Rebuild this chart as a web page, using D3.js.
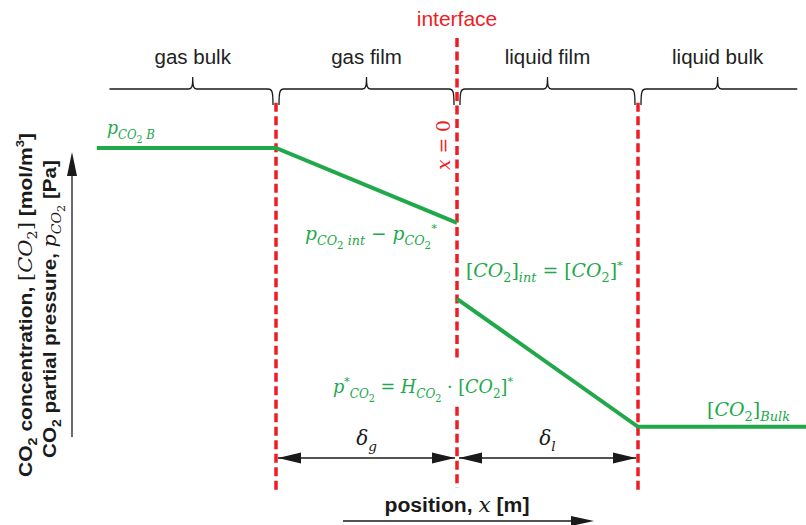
<!DOCTYPE html>
<html><head><meta charset="utf-8">
<script src="https://cdn.jsdelivr.net/npm/d3@7"></script>
<style>
html,body{margin:0;padding:0;background:#fff;}
svg{display:block;}
</style></head>
<body>
<svg id="chart" width="806" height="525"></svg>
<script>
// ---------------- data ----------------
const zoneNames = ["gas bulk", "gas film", "liquid film", "liquid bulk"];
const zoneEdges = [-1.92, -1, 0, 1, 1.88];          // position (units of film thickness)
const boundaryPos = [-1, 0, 1];                     // dashed boundaries
const profileX = [-1.99, -1, 0, 0, 1, 1.93];        // position
const profileY = [8.55, 8.55, 6.68, 4.78, 1.58, 1.58]; // concentration / pressure (arb.)
const filmNames = ["g", "l"];                       // δ_g, δ_l

// ---------------- layout ----------------
const svg = d3.select("#chart");
const x = d3.scaleLinear().domain([-1, 1]).range([276, 638]);
const y = d3.scaleLinear().domain([0, 10]).range([490, 90]);
const GREEN = "#21a84a", RED = "#ee1c25", INK = "#1a1a1a";
const SANS = "'Liberation Sans', Arial, sans-serif";
const SERIF = "'DejaVu Serif', 'Liberation Serif', serif";

// fit a text element horizontally (in its own frame) to a target width
function fitWidth(t, target, cx, cy, extra){
  const w = t.node().getComputedTextLength();
  const k = target / w;
  t.attr("transform", `${extra||""} translate(${cx},${cy}) scale(${k},1) translate(${-cx},${-cy})`);
}

// math text helper
const LV = {0:{s:1,d:0}, 1:{s:0.68,d:0.28}, 2:{s:0.55,d:0.45}, "-1":{s:0.62,d:-0.42}};
function math(g, px, py, fs, parts, color, anchor, target){
  const t = g.append("text").attr("x", px).attr("y", py)
    .attr("font-family", SERIF).attr("fill", color).attr("text-anchor", anchor||"start");
  let prev = 0;
  parts.forEach(p => {
    const [txt, lv, it, dx] = p;
    const L = LV[lv];
    const ts = t.append("tspan").text(txt)
      .attr("font-size", fs * L.s)
      .attr("font-style", it ? "italic" : "normal")
      .attr("dy", (L.d - prev) * fs);
    if (dx) ts.attr("dx", dx);
    prev = L.d;
  });
  if (target) fitWidth(t, target, px, py);
  return t;
}

// ---------------- braces ----------------
const braceG = svg.append("g").attr("fill", "none").attr("stroke", INK).attr("stroke-width", 1.3);
const by = 89, btop = 77, bcurl = 105;
for (let i = 0; i < zoneNames.length; i++) {
  const isB0 = boundaryPos.includes(zoneEdges[i]);
  const isB1 = boundaryPos.includes(zoneEdges[i+1]);
  const x1 = x(zoneEdges[i]) + (isB0 ? 3 : 0);
  const x2 = x(zoneEdges[i+1]) - (isB1 ? 3 : 0);
  const xm = (x(zoneEdges[i]) + x(zoneEdges[i+1])) / 2;
  const p = d3.path();
  if (isB0) { p.moveTo(x1, bcurl); p.bezierCurveTo(x1, by+2, x1+1, by, x1+5, by); }
  else p.moveTo(x1, by);
  p.lineTo(xm - 4, by);
  p.bezierCurveTo(xm - 1, by, xm, by - 2, xm, btop);
  p.bezierCurveTo(xm, by - 2, xm + 1, by, xm + 4, by);
  if (isB1) { p.lineTo(x2 - 5, by); p.bezierCurveTo(x2 - 1, by, x2, by + 2, x2, bcurl); }
  else p.lineTo(x2, by);
  braceG.append("path").attr("d", p.toString());
  svg.append("text").attr("x", xm).attr("y", 64).attr("text-anchor", "middle")
    .attr("font-family", SANS).attr("font-size", 20.5).attr("fill", "#222").text(zoneNames[i]);
}

// interface label
svg.append("text").attr("x", x(0)).attr("y", 26).attr("text-anchor", "middle")
  .attr("font-family", SANS).attr("font-size", 21).attr("fill", RED).text("interface");

// ---------------- dashed boundaries ----------------
const dashG = svg.append("g").attr("stroke", RED).attr("stroke-width", 3.5)
  .attr("stroke-dasharray", "9,4.5").attr("fill", "none");
[-1, 1].forEach(b => dashG.append("line").attr("x1", x(b)).attr("x2", x(b))
  .attr("y1", y(9.68)).attr("y2", y(-0.08)));
dashG.append("line").attr("x1", x(0)).attr("x2", x(0)).attr("y1", y(11.3)).attr("y2", y(3.3));
dashG.append("line").attr("x1", x(0)).attr("x2", x(0)).attr("y1", y(2.08)).attr("y2", y(0.05));

// ---------------- profile ----------------
svg.append("path").datum(d3.range(0, 3)).attr("d", d3.line()
    .x(i => x(profileX[i])).y(i => y(profileY[i])))
  .attr("fill", "none").attr("stroke", GREEN).attr("stroke-width", 4);
svg.append("path").datum(d3.range(3, profileY.length)).attr("d", d3.line()
    .x(i => x(profileX[i])).y(i => y(profileY[i])))
  .attr("fill", "none").attr("stroke", GREEN).attr("stroke-width", 4);

// ---------------- green labels ----------------
const FS = 19;
math(svg, 107, 134, FS, [["p",0,1],["CO",1,1],["2",2,0],[" B",1,1]], GREEN, "start", 48);
math(svg, 305, 240, FS, [["p",0,1],["CO",1,1],["2",2,0],[" int",1,1],[" − ",0,0],["p",0,1],["CO",1,1],["2",2,0],["*",-1,0]], GREEN, "start", 132);
math(svg, 466, 277, FS, [["[",0,0],["CO",0,1],["2",1,0],["]",0,0],["int",1,1],[" = [",0,0],["CO",0,1],["2",1,0],["]",0,0],["*",-1,0]], GREEN, "start", 157);
math(svg, 333, 393, FS, [["p",0,1],["*",-1,0],["CO",1,1],["2",2,0],[" = ",0,0],["H",0,1],["CO",1,1],["2",2,0],[" · [",0,0],["CO",0,1],["2",1,0],["]",0,0],["*",-1,0]], GREEN, "start", 180);
math(svg, 707, 416, FS, [["[",0,0],["CO",0,1],["2",1,0],["]",0,0],["Bulk",1,1]], GREEN, "start", 83);

// x = 0 rotated
const xz = svg.append("g").attr("transform", `translate(450,145) rotate(-90)`);
math(xz, 0, 0, 19, [["x",0,1],[" = 0",0,0]], RED, "middle", 50);

// ---------------- film thickness arrows ----------------
const ay = y(0.8);
function arrowHead(g, tipX, tipY, dir, len, hw){
  g.append("path").attr("d", d3.line()([[tipX, tipY],[tipX - dir*len, tipY - hw],[tipX - dir*len, tipY + hw]]) + "Z")
    .attr("fill", INK);
}
const arrG = svg.append("g");
[[-1, 0], [0, 1]].forEach((seg, i) => {
  const xa = x(seg[0]) + 2, xb = x(seg[1]) - 2;
  arrG.append("line").attr("x1", xa).attr("x2", xb).attr("y1", ay).attr("y2", ay)
    .attr("stroke", INK).attr("stroke-width", 1.3);
  arrowHead(arrG, xa, ay, -1, 23, 5.5);
  arrowHead(arrG, xb, ay, 1, 23, 5.5);
  math(svg, (x(seg[0]) + x(seg[1])) / 2, ay - 13, 20, [["δ",0,1],[filmNames[i],1,1]], INK, "middle");
});

// ---------------- axis labels ----------------
svg.append("line").attr("x1", 72).attr("x2", 72).attr("y1", 437).attr("y2", 165)
  .attr("stroke", INK).attr("stroke-width", 1.3);
svg.append("path").attr("d", "M72,152 L67,176 L77,176 Z").attr("fill", INK);

function ylab(px, py, parts, target){
  const g = svg.append("g").attr("transform", `translate(${px},${py}) rotate(-90)`);
  const t = g.append("text").attr("x", 0).attr("y", 0)
    .attr("text-anchor", "middle").attr("font-size", 19).attr("font-weight", "bold")
    .attr("font-family", SANS).attr("fill", INK);
  let prev = 0;
  parts.forEach(p => {
    const [txt, lv, fam] = p;
    const L = LV[lv];
    const ts = t.append("tspan").text(txt).attr("font-size", 19 * L.s).attr("dy", (L.d - prev) * 19);
    if (fam) ts.attr("font-family", SERIF).attr("font-weight", "normal").attr("font-style", fam === "i" ? "italic" : "normal");
    prev = L.d;
  });
  fitWidth(t, target, 0, 0);
}
ylab(32, 305, [["CO",0],["2",1],[" concentration, ",0],["[",0,"n"],["CO",0,"i"],["2",1,"n"],["]",0,"n"],[" [mol/m",0],["3",-1],["]",0]], 344);
ylab(56, 309, [["CO",0],["2",1],[" partial pressure, ",0],["p",0,"i"],["CO",1,"i"],["2",2,"n"],[" [Pa]",0]], 298);

// x axis label
const xl = svg.append("text").attr("x", 457).attr("y", 512).attr("text-anchor", "middle")
  .attr("font-family", SANS).attr("font-size", 19.5).attr("font-weight", "bold").attr("fill", INK);
xl.append("tspan").text("position, ");
xl.append("tspan").text("x").attr("font-family", SERIF).attr("font-style", "italic").attr("font-weight", "normal").attr("font-size", 20);
xl.append("tspan").text(" [m]");
fitWidth(xl, 145, 457, 512);
svg.append("line").attr("x1", 343).attr("x2", 572).attr("y1", 521).attr("y2", 521)
  .attr("stroke", INK).attr("stroke-width", 1.3);
svg.append("path").attr("d", "M594,521 L571,516 L571,526 Z").attr("fill", INK);
</script>
</body></html>
